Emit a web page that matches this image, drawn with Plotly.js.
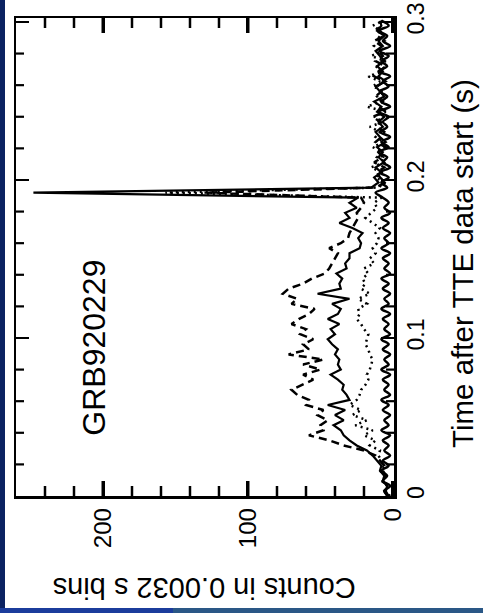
<!DOCTYPE html>
<html>
<head>
<meta charset="utf-8">
<script src="https://cdn.plot.ly/plotly-3.0.1.min.js"></script>
<style>
html,body{margin:0;padding:0;}
body{width:483px;height:613px;background:#0b2262;position:relative;overflow:hidden;}
#plot{position:absolute;left:5px;top:0;width:478px;height:608px;background:#fff;}
#stripL{position:absolute;left:0;top:608px;width:173px;height:5px;background:#1b3c9c;}
#stripR{position:absolute;left:173px;top:608px;width:310px;height:5px;background:#2a5786;}
</style>
</head>
<body>
<div id="plot"></div>
<div id="stripL"></div>
<div id="stripR"></div>
<script>
// Time bins (s), 0.0032 s bins
const timeBins = [0,0.0032,0.0064,0.0096,0.0128,0.016,0.0192,0.0224,0.0256,0.0288,
0.032,0.0352,0.0384,0.0416,0.0448,0.048,0.0512,0.0544,0.0576,0.0608,
0.064,0.0672,0.0704,0.0736,0.0768,0.08,0.0832,0.0864,0.0896,0.0928,
0.096,0.0992,0.1024,0.1056,0.1088,0.112,0.1152,0.1184,0.1216,0.1248,
0.128,0.1312,0.1344,0.1376,0.1408,0.144,0.1472,0.1504,0.1536,0.1568,
0.16,0.1632,0.1664,0.1696,0.1728,0.176,0.1792,0.1824,0.1856,0.1888,
0.192,0.1952,0.1984,0.2016,0.2048,0.208,0.2112,0.2144,0.2176,0.2208,
0.224,0.2272,0.2304,0.2336,0.2368,0.24,0.2432,0.2464,0.2496,0.2528,
0.256,0.2592,0.2624,0.2656,0.2688,0.272,0.2752,0.2784,0.2816,0.2848,
0.288,0.2912,0.2944,0.2976,0.3008];

// Counts per bin, lowest channel (heavy wavy solid)
const countsLow = [3,6,2,7,4,8,3,7,2,6, 3,7,2,8,3,6,2,7,3,8, 2,6,3,7,2,8,3,6,2,7,
3,8,2,6,3,7,2,8,3,6, 2,7,3,8,2,6,3,7,2,8, 3,6,2,7,3,8,2,6,3,7,
12,4,8,3,9,2,7,4,10,3, 8,2,9,4,7,3,10,2,8,4, 9,3,7,2,10,4,8,3,9,2, 7,4,10,3,8];

// Dotted channel
const countsDotted = [2,5,4,7,5,9,6,8,10,9, 16,12,20,14,26,18,28,22,30,25,
23,22,19,17,18,16,15,14,16,17, 19,18,17,20,22,25,23,24,18,24,
16,22,19,21,17,20,13,16,12,14, 11,10,12,9,14,19,15,11,13,8,
157,10,6,12,8,15,5,11,7,14, 6,12,9,16,7,13,5,18,8,11,
6,14,9,17,7,12,5,15,8,13, 6,11,9,14,7];

// Main solid channel
const countsSolid = [3,5,4,7,6,9,8,11,14,18, 25,30,34,36,41,34,40,33,45,30,
32,35,34,38,43,36,38,37,40,38, 42,45,40,43,37,45,38,36,42,30,
52,36,37,35,39,32,33,30,30,23, 22,24,21,28,37,30,33,25,30,24,
248,15,10,13,8,12,6,10,7,11, 5,9,12,7,10,6,11,8,13,6,
9,12,5,10,7,11,6,9,12,7, 10,6,11,8,9];

// Dashed channel
const countsDashed = [4,6,3,8,5,7,6,9,12,20, 34,44,58,48,50,45,52,48,60,58,
66,70,62,55,62,50,62,48,72,58, 62,55,64,60,70,65,58,54,70,66,
76,72,62,56,47,44,42,40,38,44, 36,31,30,28,26,24,25,22,20,22,
130,12,5,9,11,6,13,7,10,5, 12,8,6,11,9,14,5,10,7,12,
8,11,6,13,9,5,12,7,10,8, 13,6,9,11,7];

const countTicks = [0,100,200];
const countMinorTicks = [20,40,60,80,120,140,160,180,220,240];
const timeTicks = [0,0.1,0.2,0.3];
const timeTickText = ['0','0.1','0.2','0.3'];
const timeMinorTicks = [0.02,0.04,0.06,0.08,0.12,0.14,0.16,0.18,0.22,0.24,0.26,0.28];

const FONT = 'Liberation Sans, Arial, Helvetica, sans-serif';
const countRange = [260,-0.7];
const timeRange = [0,0.3025];
const PLOT_W = 378, PLOT_H = 478;

const traces = [
  {x: countsDashed, y: timeBins, mode:'lines', line:{color:'#000', width:2.5, dash:'8px,5px'}},
  {x: countsDotted, y: timeBins, mode:'lines', line:{color:'#000', width:2.5, dash:'2px,4px'}},
  {x: countsSolid, y: timeBins, mode:'lines', line:{color:'#000', width:2.2}},
  {x: countsLow, y: timeBins, mode:'lines', line:{color:'#000', width:2.5, shape:'spline', smoothing:1}}
];

// tick marks placed from the tick arrays (counts axis: bottom + top; time minor: left + right)
const tickShapes = [];
function addCountTicks(vals, len, w) {
  vals.forEach(v => {
    tickShapes.push({type:'line', xref:'x', yref:'paper', x0:v, x1:v, y0:0, y1:len/PLOT_H,
      line:{color:'#000000', width:w}, layer:'above'});
    tickShapes.push({type:'line', xref:'x', yref:'paper', x0:v, x1:v, y0:1, y1:1-len/PLOT_H,
      line:{color:'#000000', width:w}, layer:'above'});
  });
}
function addTimeTicks(vals, len, w) {
  vals.forEach(v => {
    tickShapes.push({type:'line', xref:'paper', yref:'y', y0:v, y1:v, x0:0, x1:len/PLOT_W,
      line:{color:'#000000', width:w}, layer:'above'});
    tickShapes.push({type:'line', xref:'paper', yref:'y', y0:v, y1:v, x0:1, x1:1-len/PLOT_W,
      line:{color:'#000000', width:w}, layer:'above'});
  });
}
addCountTicks(countTicks.filter(v => v > 0), 15, 3);
addCountTicks(countMinorTicks, 10, 2.5);
addTimeTicks(timeMinorTicks, 8, 2.2);

const axBase = {
  showgrid:false, zeroline:false, showline:true, linewidth:2.5, linecolor:'#000',
  mirror:'ticks', ticks:'inside', tickcolor:'#000', tickmode:'array'
};

const layout = {
  width: 478, height: 608,
  margin: {l:11, r:89, t:18, b:112},
  paper_bgcolor:'#ffffff', plot_bgcolor:'#ffffff',
  showlegend:false,
  font:{family:FONT, color:'#000'},
  xaxis: Object.assign({}, axBase, {
    range: countRange, ticklen:15, tickwidth:3,
    tickvals: countTicks, ticktext: countTicks.map(String),
    tickangle:-90, tickfont:{size:24, family:FONT, color:'#000'}
  }),
  yaxis: Object.assign({}, axBase, {
    range: timeRange, side:'right', ticklen:13, tickwidth:2.2,
    tickvals: timeTicks, ticktext: timeTickText,
    tickangle:-90, tickfont:{size:23, family:FONT, color:'#000'}
  }),
  shapes: tickShapes,
  annotations:[
    {text:'Time after TTE data start (s)', xref:'paper', yref:'paper', x:1.1825, y:0.4875,
     xanchor:'center', yanchor:'middle', textangle:-90, showarrow:false,
     font:{size:29.5, family:FONT, color:'#000'}},
    {text:'Counts in 0.0032 s bins', xref:'paper', yref:'paper', x:0.497, y:-0.1925,
     xanchor:'center', yanchor:'middle', textangle:180, showarrow:false,
     font:{size:29, family:FONT, color:'#000'}},
    {text:'GRB920229', xref:'paper', yref:'paper', x:0.206, y:0.31,
     xanchor:'center', yanchor:'middle', textangle:-90, showarrow:false,
     font:{size:32, family:FONT, color:'#000'}}
  ]
};

Plotly.newPlot('plot', traces, layout, {staticPlot:true, displayModeBar:false});
</script>
</body>
</html>
